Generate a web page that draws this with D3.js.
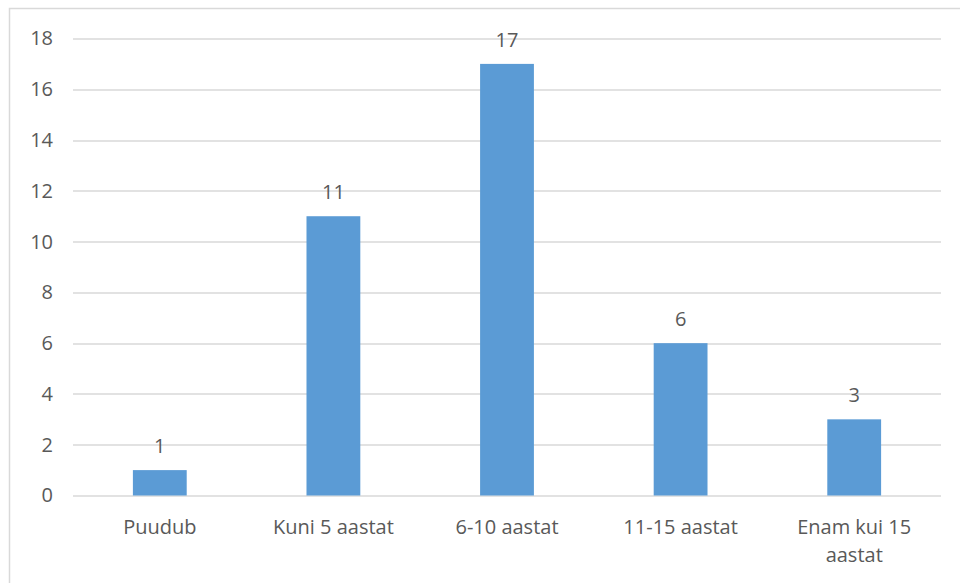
<!DOCTYPE html>
<html>
<head>
<meta charset="utf-8">
<script src="https://cdn.jsdelivr.net/npm/d3@7"></script>
<style>
  html, body { margin: 0; padding: 0; background: #fff; }
  svg { display: block; }
  text { font-family: "Open Sans", "Noto Sans", sans-serif; fill: #595959; }
</style>
</head>
<body>
<svg id="chart" width="960" height="583"></svg>
<script>
// Respondents by length of experience
const categories = ["Puudub", "Kuni 5 aastat", "6-10 aastat", "11-15 aastat", "Enam kui 15 aastat"];
const values = [1, 11, 17, 6, 3];
const yTicks = [0, 2, 4, 6, 8, 10, 12, 14, 16, 18];

const FS = 20;
const svg = d3.select("#chart");
const W = 960, H = 583;
const margin = { top: 38.5, right: 20, bottom: 87.5, left: 73 };
const plotW = 941 - margin.left;
const plotH = H - margin.top - margin.bottom;

// outer chart frame
svg.append("rect")
  .attr("x", 9.5).attr("y", 8.5)
  .attr("width", 980).attr("height", 600)
  .attr("fill", "none").attr("stroke", "#d9d9d9").attr("stroke-width", 1.5);

const g = svg.append("g").attr("transform", `translate(${margin.left},${margin.top})`);

const x = d3.scaleBand().domain(categories).range([0, plotW]).paddingInner(0.69).paddingOuter(0.345);
const y = d3.scaleLinear().domain([0, 18]).range([plotH, 0]);

// gridlines
g.selectAll("line.grid").data(yTicks).join("line")
  .attr("class", "grid")
  .attr("x1", 0).attr("x2", plotW)
  .attr("y1", d => Math.round(y(d)) + 0.5).attr("y2", d => Math.round(y(d)) + 0.5)
  .attr("stroke", "#d9d9d9").attr("stroke-width", 1.5);

// y axis labels
const yAxis = d3.axisLeft(y).tickValues(yTicks).tickSize(0).tickPadding(20);
const ya = g.append("g").call(yAxis);
ya.select(".domain").remove();
ya.selectAll("text").attr("font-size", FS).style("fill", "#595959")
  .style("font-family", "'Open Sans', sans-serif");

// bars
g.selectAll("rect.bar").data(values).join("rect")
  .attr("class", "bar")
  .attr("x", (d, i) => x(categories[i]))
  .attr("y", d => y(d))
  .attr("width", x.bandwidth())
  .attr("height", d => y(0) - y(d))
  .attr("fill", "#5b9bd5");

// value labels
g.selectAll("text.val").data(values).join("text")
  .attr("class", "val")
  .attr("x", (d, i) => x(categories[i]) + x.bandwidth() / 2)
  .attr("y", d => y(d) - 17)
  .attr("text-anchor", "middle")
  .attr("font-size", FS)
  .text(d => d);

// category labels (wrapped to the band width)
const xa = g.append("g").attr("transform", `translate(0,${plotH})`);
categories.forEach((c, i) => {
  const cx = x(c) + x.bandwidth() / 2;
  const lines = c === "Enam kui 15 aastat" ? ["Enam kui 15", "aastat"] : [c];
  lines.forEach((ln, j) => {
    xa.append("text")
      .attr("x", cx)
      .attr("y", 38 + j * 28)
      .attr("text-anchor", "middle")
      .attr("font-size", FS)
      .text(ln);
  });
});
</script>
</body>
</html>
